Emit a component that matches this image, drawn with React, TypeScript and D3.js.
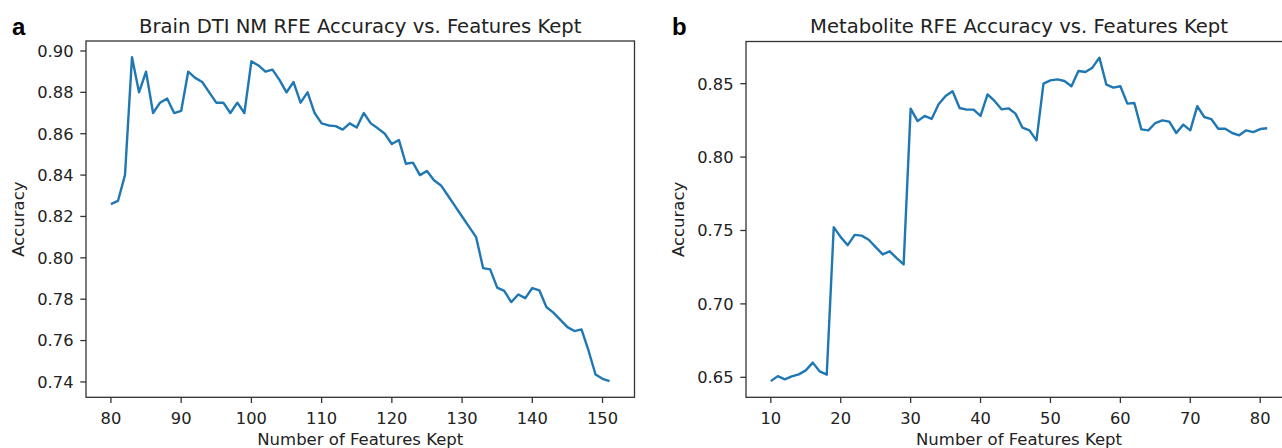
import React from "react";
import * as d3 from "d3";

// ---------- Data ----------
const brainFeatures: number[] = d3.range(80, 152);
const brainAccuracy: number[] = [
  0.826, 0.8275, 0.84, 0.897, 0.88, 0.89, 0.87, 0.875, 0.877, 0.87,
  0.871, 0.89, 0.887, 0.885, 0.88, 0.875, 0.875, 0.87, 0.875, 0.87,
  0.895, 0.893, 0.89, 0.891, 0.886, 0.88, 0.885, 0.875, 0.88, 0.87,
  0.865, 0.864, 0.8637, 0.862, 0.865, 0.863, 0.87, 0.865, 0.8626, 0.86,
  0.855, 0.857, 0.8455, 0.846, 0.84, 0.842, 0.8375, 0.835, 0.83, 0.825,
  0.82, 0.815, 0.81, 0.795, 0.7944, 0.7856, 0.784, 0.7786, 0.7823, 0.7805,
  0.7854, 0.7843, 0.7762, 0.7735, 0.77, 0.7665, 0.7646, 0.7654, 0.7552, 0.7436,
  0.7415, 0.7404,
];
const brainXTicks = [80, 90, 100, 110, 120, 130, 140, 150];
const brainYTicks = [0.74, 0.76, 0.78, 0.8, 0.82, 0.84, 0.86, 0.88, 0.9];

const metaFeatures: number[] = d3.range(10, 82);
const metaAccuracy: number[] = [
  0.6474, 0.6508, 0.6486, 0.6506, 0.652, 0.6547, 0.66, 0.654, 0.6518, 0.7523,
  0.7455, 0.74, 0.747, 0.7465, 0.7437, 0.7387, 0.7337, 0.7358, 0.7312, 0.7269,
  0.833, 0.8245, 0.828, 0.826, 0.836, 0.8416, 0.8448, 0.8334, 0.8323, 0.8323,
  0.828, 0.8427, 0.8382, 0.8325, 0.8332, 0.8296, 0.82, 0.8182, 0.8114, 0.85,
  0.8522, 0.8529, 0.8518, 0.8482, 0.8586, 0.8579, 0.8609, 0.8677, 0.8493, 0.8473,
  0.8482, 0.8364, 0.8368, 0.8189, 0.8182, 0.8232, 0.825, 0.8241, 0.8164, 0.8221,
  0.8182, 0.8347, 0.8273, 0.8259, 0.8193, 0.8193, 0.8164, 0.8148, 0.8182, 0.817,
  0.8191, 0.8196,
];
const metaXTicks = [10, 20, 30, 40, 50, 60, 70, 80];
const metaYTicks = [0.65, 0.7, 0.75, 0.8, 0.85];

const FONT = "DejaVu Sans";
const AXIS = "#333";
const TEXT = "#222";

function padded(ext: [number, number]): [number, number] {
  const m = (ext[1] - ext[0]) * 0.05;
  return [ext[0] - m, ext[1] + m];
}

type PanelProps = {
  left: number; right: number; top: number; bottom: number;
  xs: number[]; ys: number[];
  xTicks: number[]; yTicks: number[];
  yFmt: string; title: string; letter: string; letterX: number;
};

function Panel(p: PanelProps) {
  const x = d3.scaleLinear().domain(padded(d3.extent(p.xs) as [number, number])).range([p.left, p.right]);
  const y = d3.scaleLinear().domain(padded(d3.extent(p.ys) as [number, number])).range([p.bottom, p.top]);
  const line = d3.line<number>().x((_, i) => x(p.xs[i])).y((d) => y(d));
  const fmt = d3.format(p.yFmt);
  const cx = (p.left + p.right) / 2;
  const cy = (p.top + p.bottom) / 2;
  const tl = 5.7;
  return (
    <g>
      <text x={p.letterX} y={35} fontFamily="Liberation Sans, Arial" fontWeight="bold" fontSize={24} fill="#000">{p.letter}</text>
      <text x={cx} y={32.5} textAnchor="middle" fontFamily={FONT} fontSize={19.6} fill={TEXT}>{p.title}</text>
      <path d={line(p.ys) || ""} fill="none" stroke="#1f77b4" strokeWidth={2.4} strokeLinejoin="round" />
      <rect x={p.left} y={p.top} width={p.right - p.left} height={p.bottom - p.top} fill="none" stroke={AXIS} strokeWidth={1.3} />
      {p.xTicks.map((t) => (
        <g key={"x" + t}>
          <line x1={x(t)} x2={x(t)} y1={p.bottom} y2={p.bottom + tl} stroke={AXIS} strokeWidth={1.3} />
          <text x={x(t)} y={423.5} textAnchor="middle" fontFamily={FONT} fontSize={16.3} fill={TEXT}>{t}</text>
        </g>
      ))}
      {p.yTicks.map((t) => (
        <g key={"y" + t}>
          <line x1={p.left - tl} x2={p.left} y1={y(t)} y2={y(t)} stroke={AXIS} strokeWidth={1.3} />
          <text x={p.left - 12.5} y={y(t)} dy="0.36em" textAnchor="end" fontFamily={FONT} fontSize={16.3} fill={TEXT}>{fmt(t)}</text>
        </g>
      ))}
      <text x={cx} y={445} textAnchor="middle" fontFamily={FONT} fontSize={16.5} fill={TEXT}>Number of Features Kept</text>
      <text transform={`translate(${p.left - 62},${cy}) rotate(-90)`} textAnchor="middle" fontFamily={FONT} fontSize={16.5} fill={TEXT}>Accuracy</text>
    </g>
  );
}

export default function App() {
  return (
    <div style={{ position: "absolute", left: 0, top: 0 }}>
      <svg width={1282} height={448} style={{ display: "block", background: "#fff" }}>
        <rect x={0} y={0} width={1282} height={448} fill="#fff" />
        <Panel left={86} right={634.5} top={41} bottom={397.3}
          xs={brainFeatures} ys={brainAccuracy} xTicks={brainXTicks} yTicks={brainYTicks}
          yFmt=".2f" title="Brain DTI NM RFE Accuracy vs. Features Kept" letter="a" letterX={12} />
        <Panel left={746} right={1292} top={41.5} bottom={397.3}
          xs={metaFeatures} ys={metaAccuracy} xTicks={metaXTicks} yTicks={metaYTicks}
          yFmt=".2f" title="Metabolite RFE Accuracy vs. Features Kept" letter="b" letterX={672} />
      </svg>
    </div>
  );
}
